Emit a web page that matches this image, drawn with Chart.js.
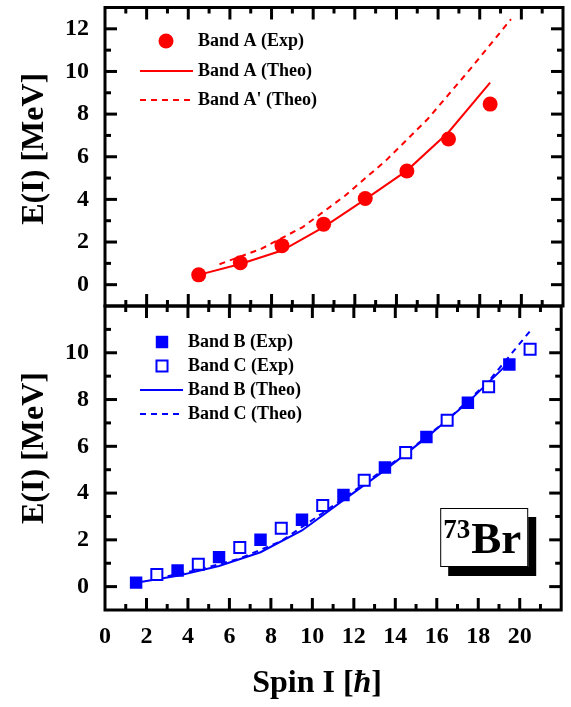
<!DOCTYPE html>
<html>
<head>
<meta charset="utf-8">
<title>73Br E(I)</title>
<script src="https://cdn.jsdelivr.net/npm/chart.js@4.4.1/dist/chart.umd.min.js"></script>
<style>
  html, body { margin: 0; padding: 0; background: #fff; }
  #wrap { position: relative; width: 571px; height: 707px; }
  #wrap canvas { position: absolute; left: 0; top: 0; }
</style>
</head>
<body>
<div id="wrap">
  <canvas id="topPanel" width="571" height="707"></canvas>
  <canvas id="bottomPanel" width="571" height="707"></canvas>
</div>
<script>
// ---------------- data ----------------
const spinA   = [4.5, 6.5, 8.5, 10.5, 12.5, 14.5, 16.5, 18.5];
const expA    = [0.46, 1.03, 1.83, 2.84, 4.04, 5.33, 6.83, 8.47];
const theoA   = [0.46, 0.97, 1.60, 2.70, 4.00, 5.35, 7.15, 9.48];
const spinA2  = [5.5, 7.5, 9.5, 11.5, 13.5, 15.5, 17.5, 19.5];
const theoA2  = [0.96, 1.68, 2.70, 4.15, 5.83, 7.77, 10.06, 12.45];

const spinB   = [1.5, 3.5, 5.5, 7.5, 9.5, 11.5, 13.5, 15.5, 17.5, 19.5];
const expB    = [0.17, 0.69, 1.26, 2.00, 2.86, 3.92, 5.09, 6.40, 7.86, 9.50];
const theoB   = [0.17, 0.46, 0.88, 1.47, 2.40, 3.70, 4.98, 6.37, 7.88, 9.60];
const spinC   = [2.5, 4.5, 6.5, 8.5, 10.5, 12.5, 14.5, 16.5, 18.5, 20.5];
const expC    = [0.52, 0.96, 1.67, 2.50, 3.47, 4.55, 5.73, 7.11, 8.55, 10.15];
const theoC   = [0.35, 0.72, 1.20, 1.95, 3.15, 4.40, 5.70, 7.12, 8.78, 10.93];

const xTicks      = [0, 2, 4, 6, 8, 10, 12, 14, 16, 18, 20];
const yTicksTop   = [0, 2, 4, 6, 8, 10, 12];
const yTicksBot   = [0, 2, 4, 6, 8, 10];

// ---------------- helpers ----------------
const FONT = '"Liberation Serif", "Times New Roman", serif';
const RED = '#ff0000';
const BLUE = '#0000ff';

const pts = (xs, ys) => xs.map((x, i) => ({ x, y: ys[i] }));

function expSet(label, xs, ys, style, color, filled, radius) {
    return {
        label, data: pts(xs, ys), showLine: false,
        pointStyle: style, pointRadius: radius, pointHoverRadius: radius,
        pointBackgroundColor: filled ? color : '#fff',
        pointBorderColor: color,
        pointBorderWidth: filled ? 0 : 2
    };
}

function theoSet(label, xs, ys, color, dash) {
    return {
        label, data: pts(xs, ys), showLine: true,
        borderColor: color, borderWidth: 2, borderDash: dash || [],
        pointRadius: 0, tension: 0, fill: false
    };
}

function yAxis(min, max, ticks) {
    return {
        type: 'linear', min, max,
        afterFit: s => { s.width = 105; s.paddingTop = 0; s.paddingBottom = 0; },
        afterBuildTicks: s => { s.ticks = ticks.map(v => ({ value: v })); },
        grid: { display: false, drawTicks: false },
        border: { display: false },
        ticks: { color: '#000', padding: 16, font: { family: FONT, size: 24, weight: 'bold' } }
    };
}

// frame with inward major/minor ticks on all four sides
const framePlugin = {
    id: 'frame',
    afterDatasetsDraw(chart) {
        const { ctx, chartArea: a, scales: { x, y } } = chart;
        ctx.save();
        ctx.strokeStyle = '#000';
        ctx.lineWidth = 3;
        const seg = (x1, y1, x2, y2) => { ctx.beginPath(); ctx.moveTo(x1, y1); ctx.lineTo(x2, y2); ctx.stroke(); };
        for (let v = Math.ceil(x.min) + 1; v < x.max; v++) {
            const px = x.getPixelForValue(v);
            const len = v % 2 === 0 ? 12 : 6;
            seg(px, a.bottom, px, a.bottom - len);
            seg(px, a.top, px, a.top + len);
        }
        for (let v = Math.ceil(y.min) + 1; v < y.max; v++) {
            const py = y.getPixelForValue(v);
            const len = v % 2 === 0 ? 12 : 6;
            seg(a.left, py, a.left + len, py);
            seg(a.right, py, a.right - len, py);
        }
        ctx.strokeRect(a.left, a.top, a.right - a.left, a.bottom - a.top);
        ctx.restore();
    }
};

// legend drawn inside the plot, built from the datasets
const insideLegend = {
    id: 'insideLegend',
    afterDatasetsDraw(chart, args, o) {
        const ctx = chart.ctx;
        ctx.save();
        ctx.font = `bold 18px ${FONT}`;
        ctx.textBaseline = 'middle';
        chart.data.datasets.forEach((ds, i) => {
            const yy = o.rows[i];
            if (ds.showLine === false) {
                const r = ds.pointRadius;
                ctx.beginPath();
                if (ds.pointStyle === 'circle') {
                    ctx.arc(o.markX, yy, r, 0, Math.PI * 2);
                } else {
                    const h = r * Math.SQRT1_2;
                    ctx.rect(o.markX - h, yy - h, 2 * h, 2 * h);
                }
                ctx.fillStyle = ds.pointBackgroundColor;
                ctx.fill();
                if (ds.pointBorderWidth > 0) {
                    ctx.lineWidth = ds.pointBorderWidth;
                    ctx.strokeStyle = ds.pointBorderColor;
                    ctx.stroke();
                }
            } else {
                ctx.strokeStyle = ds.borderColor;
                ctx.lineWidth = ds.borderWidth;
                ctx.setLineDash(ds.borderDash);
                ctx.beginPath();
                ctx.moveTo(o.lineX0, yy);
                ctx.lineTo(o.lineX1, yy);
                ctx.stroke();
                ctx.setLineDash([]);
            }
            ctx.fillStyle = '#000';
            ctx.fillText(ds.label, o.textX, yy);
        });
        ctx.restore();
    }
};

// axis titles (x title has an italic hbar)
const titlesPlugin = {
    id: 'titles',
    afterDraw(chart, args, o) {
        const { ctx, chartArea: a } = chart;
        ctx.save();
        ctx.fillStyle = '#000';
        ctx.font = `bold 32px ${FONT}`;
        ctx.textAlign = 'center';
        ctx.textBaseline = 'alphabetic';
        ctx.translate(43, (a.top + a.bottom) / 2 - o.yShift);
        ctx.rotate(-Math.PI / 2);
        ctx.fillText('E(I) [MeV]', 0, 0);
        ctx.restore();

        if (o.xTitle) {
            ctx.save();
            ctx.fillStyle = '#000';
            ctx.textBaseline = 'alphabetic';
            const parts = [
                ['Spin I [', `bold 32px ${FONT}`],
                ['\u0127', `italic bold 32px ${FONT}`],
                [']', `bold 32px ${FONT}`]
            ];
            let total = 0;
            parts.forEach(p => { ctx.font = p[1]; total += ctx.measureText(p[0]).width; });
            let xx = (a.left + a.right) / 2 - 16 - total / 2;
            parts.forEach(p => { ctx.font = p[1]; ctx.fillText(p[0], xx, 692); xx += ctx.measureText(p[0]).width; });
            ctx.restore();
        }

        if (o.nucleus) {
            // 73Br label box with drop shadow
            const bw = 88, bh = 59;
            const bx = a.right - 33 - bw, by = a.bottom - 43 - bh;
            ctx.save();
            ctx.fillStyle = '#000';
            ctx.fillRect(bx + 8, by + 9, bw, bh);
            ctx.fillStyle = '#fff';
            ctx.fillRect(bx, by, bw, bh);
            ctx.strokeStyle = '#000';
            ctx.lineWidth = 1;
            ctx.strokeRect(bx + 0.5, by + 0.5, bw - 1, bh - 1);
            ctx.fillStyle = '#000';
            ctx.textBaseline = 'alphabetic';
            ctx.font = `bold 27px ${FONT}`;
            ctx.fillText('73', bx + 3, by + 30);
            const w73 = ctx.measureText('73').width;
            ctx.font = `bold 45px ${FONT}`;
            ctx.fillText('Br', bx + 3 + w73 + 1, by + 45);
            ctx.restore();
        }
    }
};

const common = {
    responsive: false,
    animation: false,
    events: [],
    plugins: { legend: { display: false }, tooltip: { enabled: false } }
};

// ---------------- top panel: band A ----------------
new Chart(document.getElementById('topPanel'), {
    type: 'scatter',
    data: {
        datasets: [
            expSet('Band A (Exp)', spinA, expA, 'circle', RED, true, 7.5),
            theoSet('Band A (Theo)', spinA, theoA, RED),
            theoSet("Band A' (Theo)", spinA2, theoA2, RED, [6, 5])
        ]
    },
    options: {
        ...common,
        layout: { padding: { top: 2, right: 8, bottom: 401, left: 0 } },
        scales: {
            x: { type: 'linear', min: 0, max: 22, display: false },
            y: yAxis(-1, 13, yTicksTop)
        },
        plugins: {
            ...common.plugins,
            insideLegend: { rows: [41, 71, 100], markX: 166, lineX0: 140, lineX1: 193, textX: 198 },
            titles: { yShift: 8 }
        }
    },
    plugins: [framePlugin, insideLegend, titlesPlugin]
});

// ---------------- bottom panel: bands B and C ----------------
new Chart(document.getElementById('bottomPanel'), {
    type: 'scatter',
    data: {
        datasets: [
            expSet('Band B (Exp)', spinB, expB, 'rect', BLUE, true, 8.8),
            expSet('Band C (Exp)', spinC, expC, 'rect', BLUE, false, 7.8),
            theoSet('Band B (Theo)', spinB, theoB, BLUE),
            theoSet('Band C (Theo)', spinC, theoC, BLUE, [6, 5])
        ]
    },
    options: {
        ...common,
        layout: { padding: { top: 306, right: 8, bottom: 0, left: 0 } },
        scales: {
            x: {
                type: 'linear', min: 0, max: 22,
                afterFit: s => { s.height = 97; s.paddingLeft = 0; s.paddingRight = 0; },
                afterBuildTicks: s => { s.ticks = xTicks.map(v => ({ value: v })); },
                grid: { display: false, drawTicks: false },
                border: { display: false },
                ticks: { color: '#000', padding: 12, autoSkip: false, maxRotation: 0,
                         font: { family: FONT, size: 24, weight: 'bold' } }
            },
            y: yAxis(-1, 12, yTicksBot)
        },
        plugins: {
            ...common.plugins,
            insideLegend: { rows: [342, 366, 390, 414], markX: 162, lineX0: 140, lineX1: 183, textX: 188 },
            titles: { yShift: 10, xTitle: true, nucleus: true }
        }
    },
    plugins: [framePlugin, insideLegend, titlesPlugin]
});
</script>
</body>
</html>
